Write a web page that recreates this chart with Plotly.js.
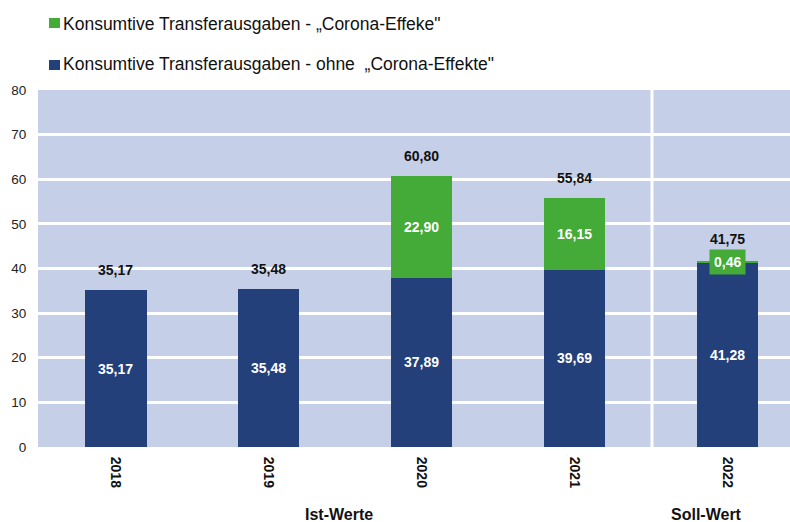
<!DOCTYPE html>
<html><head><meta charset="utf-8">
<script src="https://cdn.plot.ly/plotly-3.0.1.min.js"></script>
<style>body{margin:0;background:#fff}#c{width:790px;height:522px}</style>
</head><body><div id="c"></div>
<script>
const years = ['2018','2019','2020','2021','2022'];
const ohne = [35.17, 35.48, 37.89, 39.69, 41.28];
const corona = [0, 0, 22.90, 16.15, 0.46];
const totals = [35.17, 35.48, 60.80, 55.84, 41.75];
const nameCorona = 'Konsumtive Transferausgaben - „Corona-Effeke"';
const nameOhne = 'Konsumtive Transferausgaben - ohne  „Corona-Effekte"';
const groupLabels = ['Ist-Werte', 'Soll-Wert'];

const BLUE = '#23407a', GREEN = '#44aa38', BG = '#c5cfe8';
const fmt = v => v.toFixed(2).replace('.', ',');
const F = 'Liberation Sans, Arial, sans-serif';
const PL = 38, PT = 90, PW = 752, PH = 357;
const px = x => (x - PL) / PW;
const py = y => (PT + PH - y) / PH;

const traces = [
  {type:'bar', x:years, y:ohne, name:nameOhne, marker:{color:BLUE}, width:0.40, hoverinfo:'none'},
  {type:'bar', x:years, y:corona, name:nameCorona, marker:{color:GREEN}, width:0.40, hoverinfo:'none'}
];

const ann = [];
years.forEach((yr, i) => {
  ann.push({x:i, y:ohne[i]/2, text:'<b>'+fmt(ohne[i])+'</b>', showarrow:false,
    font:{family:F, size:14, color:'#fff'}});
  if (corona[i] > 1) {
    ann.push({x:i, y:ohne[i]+corona[i]/2, text:'<b>'+fmt(corona[i])+'</b>', showarrow:false,
      font:{family:F, size:14, color:'#fff'}});
  } else if (corona[i] > 0) {
    ann.push({x:i, y:ohne[i]+corona[i]/2, text:'<b>'+fmt(corona[i])+'</b>', showarrow:false,
      bgcolor:GREEN, borderpad:4, font:{family:F, size:14, color:'#fff'}});
  }
  ann.push({x:i, y:totals[i], yanchor:'bottom', yshift:(corona[i]>0&&corona[i]<1)?12:10,
    text:'<b>'+fmt(totals[i])+'</b>', showarrow:false, font:{family:F, size:14, color:'#111'}});
});
ann.push({xref:'paper', yref:'paper', x:px(339), y:py(514), xanchor:'center', yanchor:'middle',
  text:'<b>'+groupLabels[0]+'</b>', showarrow:false, font:{family:F, size:16, color:'#111'}});
ann.push({xref:'paper', yref:'paper', x:px(706), y:py(514), xanchor:'center', yanchor:'middle',
  text:'<b>'+groupLabels[1]+'</b>', showarrow:false, font:{family:F, size:16, color:'#111'}});
// manual legend
ann.push({xref:'paper', yref:'paper', x:px(61), y:py(24), xanchor:'left', yanchor:'middle',
  text:nameCorona, showarrow:false, font:{family:F, size:17.5, color:'#111'}});
ann.push({xref:'paper', yref:'paper', x:px(61), y:py(64), xanchor:'left', yanchor:'middle',
  text:nameOhne, showarrow:false, font:{family:F, size:17.5, color:'#111'}});

const layout = {
  width:790, height:522,
  margin:{l:PL, r:0, t:PT, b:522-PT-PH, pad:0},
  paper_bgcolor:'#fff', plot_bgcolor:BG,
  barmode:'stack', showlegend:false,
  xaxis:{type:'category', range:[-0.51, 4.41], tickangle:90, showgrid:false, zeroline:false,
    tickvals:years, ticktext:years.map(y=>'<b>'+y+'</b>'), ticks:'outside', ticklen:6, tickcolor:'rgba(0,0,0,0)',
    tickfont:{family:F, size:14, color:'#111'}, fixedrange:true},
  yaxis:{range:[0,80], dtick:10, showgrid:true, gridcolor:'#fff', gridwidth:3, zeroline:false,
    tickfont:{family:F, size:13.5, color:'#222'}, ticks:'outside', ticklen:8, tickcolor:'rgba(0,0,0,0)', fixedrange:true},
  shapes:[
    {type:'line', xref:'paper', yref:'paper', x0:px(652), x1:px(652), y0:0, y1:1, line:{color:'#fff', width:3}},
    {type:'rect', xref:'paper', yref:'paper', x0:px(49), x1:px(60), y0:py(28), y1:py(18), line:{width:0}, fillcolor:GREEN},
    {type:'rect', xref:'paper', yref:'paper', x0:px(49), x1:px(60), y0:py(70), y1:py(60), line:{width:0}, fillcolor:BLUE}
  ],
  annotations:ann
};
Plotly.newPlot('c', traces, layout, {displayModeBar:false, staticPlot:true});
</script></body></html>
